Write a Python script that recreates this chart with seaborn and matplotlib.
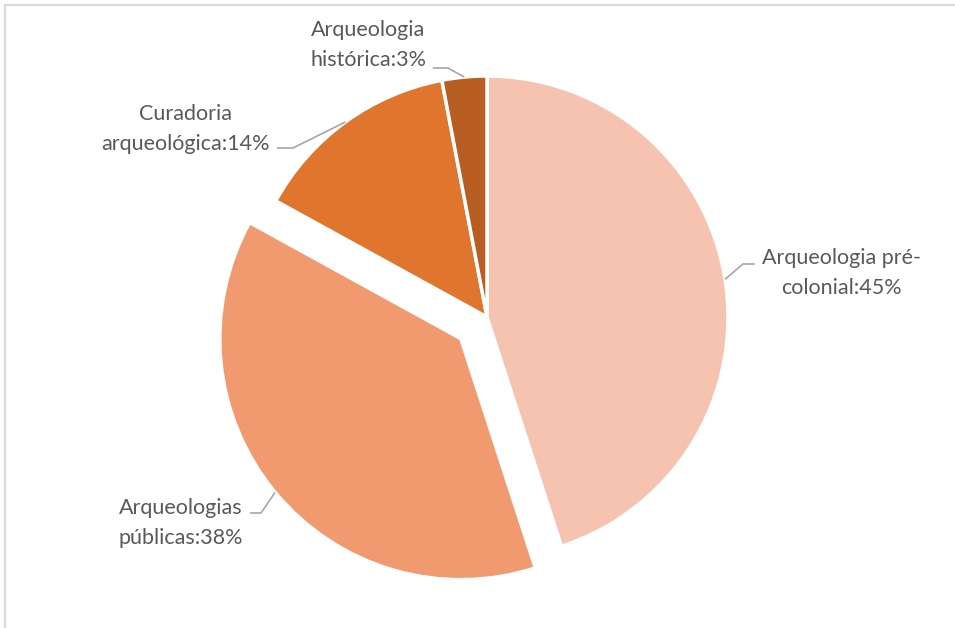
import numpy as np
import matplotlib
matplotlib.use("Agg")
import matplotlib.pyplot as plt
from matplotlib.patches import Rectangle
import seaborn as sns

# Distribution of research areas (percent)
categories = ["Arqueologia pré-colonial", "Arqueologias públicas",
              "Curadoria arqueológica", "Arqueologia histórica"]
label_lines = ["Arqueologia pré-\ncolonial", "Arqueologias\npúblicas",
               "Curadoria\narqueológica", "Arqueologia\nhistórica"]
shares = [45, 38, 14, 3]
colors = ["#F5C3B0", "#F19A70", "#E0752D", "#B85E23"]

sns.set_theme(style="white")
plt.rcParams["font.family"] = ["Lato", "DejaVu Sans"]

W, H = 955, 628
fig = plt.figure(figsize=(W / 100, H / 100), dpi=100)
ax = fig.add_axes([0, 0, 1, 1])

# frame around the chart area (top and left edges visible)
fig.patches.append(Rectangle((5 / W, -0.1), 1.2, 1.1 - 5 / H,
                             transform=fig.transFigure, fill=False,
                             edgecolor="#D9D9D9", linewidth=1.6, zorder=0))

R = 241
cx, cy = 487, H - 317
wedges, _ = ax.pie(shares, colors=colors, startangle=90, counterclock=False,
                   explode=[0, 34, 0, 0], radius=R, center=(cx, cy),
                   wedgeprops=dict(edgecolor="white", linewidth=2.5),
                   frame=True)
ax.set_xlim(0, W)
ax.set_ylim(0, H)
ax.set_aspect("equal")
ax.axis("off")

# label layout: text centre, elbow start, elbow end (pixel coords from top)
layout = [
    dict(text=(841, 273), elbow=[(755, 264), (743, 264)]),
    dict(text=(181, 523), elbow=[(250, 513), (261, 513)]),
    dict(text=(185, 129), elbow=[(277, 148), (293, 148)]),
    dict(text=(368, 45), elbow=[(433, 68), (448, 68)]),
]

grey = "#595959"
for w, name, val, lay in zip(wedges, label_lines, shares, layout):
    mid = np.deg2rad((w.theta1 + w.theta2) / 2)
    ax_x = w.center[0] + w.r * np.cos(mid)
    ax_y = w.center[1] + w.r * np.sin(mid)
    pts = [(x, H - y) for x, y in lay["elbow"]] + [(ax_x, ax_y)]
    xs, ys = zip(*pts)
    ax.plot(xs, ys, color="#A6A6A6", linewidth=1.2, solid_capstyle="butt")
    tx, ty = lay["text"]
    ax.text(tx, H - ty, f"{name}:{val}%", ha="center", va="center",
            multialignment="center", fontsize=15.5, color=grey,
            linespacing=1.63)

fig.savefig("out.png", dpi=100)
